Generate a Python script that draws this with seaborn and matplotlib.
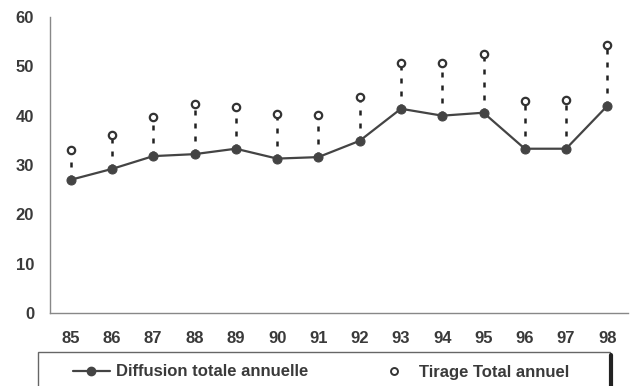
import pandas as pd
import matplotlib.pyplot as plt
import seaborn as sns
from matplotlib.lines import Line2D
from matplotlib.patches import Rectangle

# Données
annees = ['85', '86', '87', '88', '89', '90', '91', '92', '93', '94', '95', '96', '97', '98']
diffusion = [27, 29.2, 31.8, 32.2, 33.3, 31.3, 31.6, 34.9, 41.4, 40.0, 40.6, 33.3, 33.3, 42.0]
tirage = [33, 36.1, 39.7, 42.4, 41.8, 40.4, 40.2, 43.8, 50.7, 50.7, 52.5, 43.0, 43.2, 54.4]

df = pd.DataFrame({'pos': range(len(annees)), 'Annee': annees,
                   'Diffusion': diffusion, 'Tirage': tirage})

sns.set_style("white")
plt.rcParams['font.family'] = ['Liberation Sans', 'DejaVu Sans']
plt.rcParams['font.weight'] = 'bold'

texte = '#3a3a3a'
trait = '#444444'

fig = plt.figure(figsize=(6.31, 3.86), dpi=100)
ax = fig.add_axes([50 / 631, 1 - 313 / 386, 578 / 631, 296 / 386])

# Traits pointillés entre diffusion et tirage
ax.vlines(df['pos'], df['Diffusion'], df['Tirage'], colors='#222222',
          linestyles=(0, (2, 3.2)), linewidth=1.8, zorder=1)

sns.lineplot(data=df, x='pos', y='Diffusion', ax=ax, color=trait, linewidth=1.6,
             marker='o', markersize=6.5, markeredgecolor=trait, zorder=3)
sns.scatterplot(data=df, x='pos', y='Tirage', ax=ax, s=28, facecolor='white',
                edgecolor='#333333', linewidth=1.6, zorder=3)

ax.set_xlim(-0.5, 13.5)
ax.set_ylim(0, 60)
ax.set_xlabel('')
ax.set_ylabel('')
ax.set_xticks(range(len(annees)))
ax.set_xticklabels(annees)
ax.set_xticks([i + 0.5 for i in range(-1, len(annees))], minor=True)
ax.set_yticks(range(0, 61, 10))
ax.tick_params(axis='x', which='major', length=0, pad=13, labelsize=12, labelcolor=texte)
ax.tick_params(axis='x', which='minor', length=9, direction='inout', color='#777777', width=1)
ax.tick_params(axis='y', length=9, direction='inout', color='#999999', width=1,
               pad=7, labelsize=12, labelcolor=texte)

for s in ['top', 'right']:
    ax.spines[s].set_visible(False)
for s in ['left', 'bottom']:
    ax.spines[s].set_color('#888888')
    ax.spines[s].set_linewidth(1)

# Légende en bas : cadre dessiné à part
fig.add_artist(Rectangle((38 / 631, -0.05), 572 / 631, 0.05 + 1 - 352 / 386,
                         transform=fig.transFigure, facecolor='white',
                         edgecolor='#666666', linewidth=1))
fig.add_artist(Line2D([611 / 631, 611 / 631], [0, 1 - 355 / 386],
                      transform=fig.transFigure, color='#222222', linewidth=3))

handles = [
    Line2D([], [], color=trait, marker='o', markersize=6, linewidth=1.6),
    Line2D([], [], linestyle='none', marker='o', markersize=5, markerfacecolor='white',
           markeredgecolor='#333333', markeredgewidth=1.4),
]
fig.legend(handles, ['Diffusion totale annuelle', 'Tirage Total annuel'],
           loc='center left', bbox_to_anchor=(58 / 631, 1 - 372 / 386),
           ncol=2, frameon=False, fontsize=12, handlelength=2.2,
           handletextpad=0.4, columnspacing=4.0, labelcolor=texte)

plt.savefig('out.png', dpi=100)
